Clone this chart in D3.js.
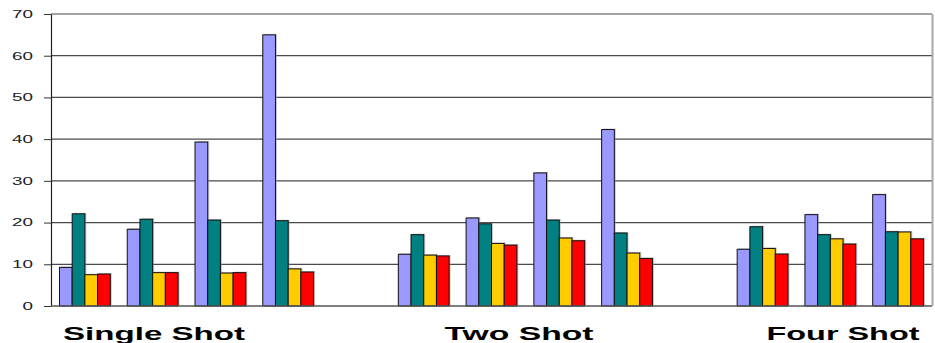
<!DOCTYPE html>
<html>
<head>
<meta charset="utf-8">
<script src="https://cdn.jsdelivr.net/npm/d3@7"></script>
<style>
  html, body { margin: 0; padding: 0; background: #fff; }
  svg { display: block; }
</style>
</head>
<body>
<svg id="chart" width="935" height="343"></svg>
<script>
// Category slots along the x axis; the two gap slots separate the shot groups.
const slots = ["S1", "S2", "S3", "S4", "gap1", "T1", "T2", "T3", "T4", "gap2", "F1", "F2", "F3"];
const groupLabels = ["Single Shot", "Two Shot", "Four Shot"];
const seriesKeys = ["a", "b", "c", "d"];
const seriesColors = ["#9999ff", "#008080", "#ffcc00", "#ff0000"];

// Values per series, one entry per non-gap slot, in slot order.
const seriesA = [9.25, 18.4, 39.3, 65.0, 12.4, 21.1, 31.9, 42.3, 13.6, 21.9, 26.7];
const seriesB = [22.1, 20.8, 20.6, 20.45, 17.1, 19.7, 20.6, 17.5, 19.0, 17.1, 17.8];
const seriesC = [7.5, 8.0, 7.9, 8.9, 12.2, 15.0, 16.3, 12.7, 13.8, 16.1, 17.75];
const seriesD = [7.67, 8.0, 8.0, 8.15, 12.0, 14.6, 15.65, 11.4, 12.45, 14.85, 16.1];

const yTicks = [0, 10, 20, 30, 40, 50, 60, 70];

const allSeries = [seriesA, seriesB, seriesC, seriesD];
const dataSlots = slots.filter(s => !s.startsWith("gap"));
const rows = dataSlots.map((slot, i) => ({
  slot,
  values: seriesKeys.map((k, j) => ({ key: k, value: allSeries[j][i], color: seriesColors[j] }))
}));

const svg = d3.select("#chart");
const plot = { left: 51, right: 932, top: 14, bottom: 306 };

const x = d3.scaleBand().domain(slots).range([plot.left, plot.right]).paddingInner(0.25).paddingOuter(0.125);
const xInner = d3.scaleBand().domain(seriesKeys).range([0, x.bandwidth()]);
const y = d3.scaleLinear().domain([0, 70]).range([plot.bottom, plot.top]);

// Horizontal gridlines
svg.append("g").selectAll("line").data(yTicks.filter(t => t > 0)).join("line")
  .attr("x1", plot.left).attr("x2", plot.right)
  .attr("y1", d => y(d)).attr("y2", d => y(d))
  .attr("stroke", "#4a4a4a").attr("stroke-width", 1.2);

// Right border of the plot area
svg.append("line")
  .attr("x1", plot.right + 0.5).attr("x2", plot.right + 0.5)
  .attr("y1", y(70)).attr("y2", y(0))
  .attr("stroke", "#a8a8a8").attr("stroke-width", 2);

// Bars with a faint drop shadow
const groups = svg.append("g").selectAll("g").data(rows).join("g")
  .attr("transform", d => `translate(${x(d.slot)},0)`);

groups.selectAll("rect.shadow").data(d => d.values).join("rect")
  .attr("class", "shadow")
  .attr("x", d => xInner(d.key) + 1.5)
  .attr("y", d => y(d.value) - 1)
  .attr("width", xInner.bandwidth())
  .attr("height", d => y(0) - y(d.value))
  .attr("fill", "#9a9a9a").attr("opacity", 0.55);

groups.selectAll("rect.bar").data(d => d.values).join("rect")
  .attr("class", "bar")
  .attr("x", d => xInner(d.key))
  .attr("y", d => y(d.value))
  .attr("width", xInner.bandwidth())
  .attr("height", d => y(0) - y(d.value))
  .attr("fill", d => d.color)
  .attr("stroke", "#111").attr("stroke-width", 1);

// Y axis
const yAxis = svg.append("g")
  .attr("transform", `translate(${plot.left},0)`)
  .call(d3.axisLeft(y).tickValues(yTicks).tickSize(7).tickPadding(11).tickSizeOuter(0));
yAxis.select(".domain").attr("stroke", "#222").attr("stroke-width", 1.2);
yAxis.selectAll(".tick line").attr("stroke", "#333");
yAxis.selectAll(".tick text")
  .attr("font-family", "Liberation Sans, Arial, sans-serif")
  .attr("font-size", 10.5)
  .attr("fill", "#222")
  .attr("textLength", d => String(d).length * 10.5)
  .attr("lengthAdjust", "spacingAndGlyphs");

// X baseline
svg.append("line")
  .attr("x1", plot.left).attr("x2", plot.right)
  .attr("y1", y(0)).attr("y2", y(0))
  .attr("stroke", "#555").attr("stroke-width", 1.5);

// Group titles beneath the axis, drawn wide and bold
const labelCenters = [154, 519, 843];
const labelWidths = [182, 149, 153];
svg.append("g").selectAll("text").data(groupLabels).join("text")
  .attr("x", (d, i) => labelCenters[i] - labelWidths[i] / 2)
  .attr("y", 340)
  .attr("textLength", (d, i) => labelWidths[i])
  .attr("lengthAdjust", "spacingAndGlyphs")
  .attr("font-family", "Liberation Sans, Arial, sans-serif")
  .attr("font-weight", "bold")
  .attr("font-size", 19)
  .attr("fill", "#000")
  .text(d => d);
</script>
</body>
</html>
